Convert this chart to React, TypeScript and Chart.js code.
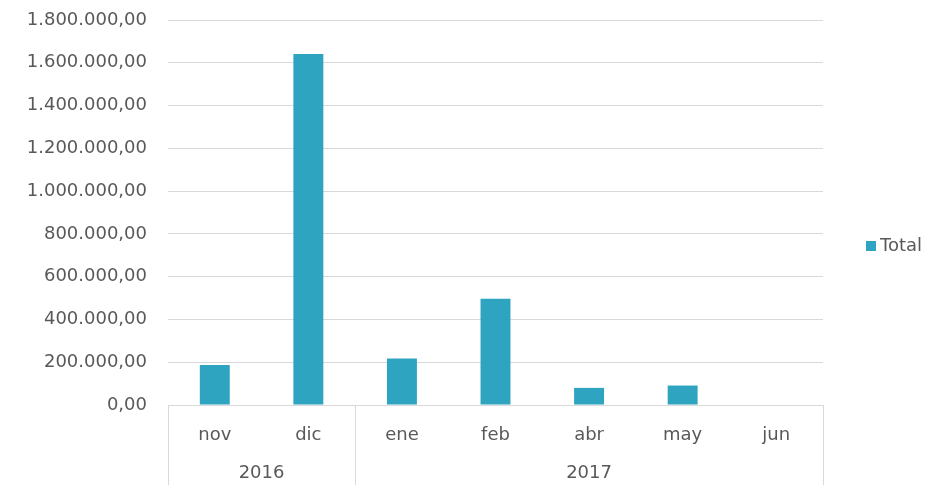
import React, { useEffect, useRef } from "react";
import { Chart, registerables } from "chart.js";

Chart.register(...registerables);

const months = ["nov", "dic", "ene", "feb", "abr", "may", "jun"];
const yearLabels = ["2016", "2017"];
const yearSpans = [2, 5];
const totals = [187000, 1641000, 217000, 497000, 80000, 91000, 0];
const seriesName = "Total";

const FONT = "'DejaVu Sans', sans-serif";
const TEXT = "#595959";
const GRID = "#d9d9d9";
const BAR = "#2ea4c1";
const FS = 18;

function fmt(v: number): string {
  const s = Math.round(v).toString().replace(/\B(?=(\d{3})+(?!\d))/g, ".");
  return s + ",00";
}

const groupPlugin = {
  id: "groupAxis",
  afterDraw(chart: any) {
    const { ctx, chartArea } = chart;
    const x = chart.scales.x;
    const n = months.length;
    const catW = (chartArea.right - chartArea.left) / n;
    const bottom = chart.height;
    ctx.save();
    ctx.strokeStyle = GRID;
    ctx.lineWidth = 1;
    ctx.beginPath();
    ctx.moveTo(chartArea.left, chartArea.bottom + 0.5);
    ctx.lineTo(chartArea.right, chartArea.bottom + 0.5);
    ctx.stroke();
    let idx = 0;
    const edges: number[] = [x.getPixelForValue(0) - catW / 2];
    yearSpans.forEach((s) => {
      idx += s;
      edges.push(x.getPixelForValue(idx - 1) + catW / 2);
    });
    edges.forEach((ex) => {
      const px = Math.round(ex) + 0.5;
      ctx.beginPath();
      ctx.moveTo(px, chartArea.bottom);
      ctx.lineTo(px, bottom);
      ctx.stroke();
    });
    ctx.fillStyle = TEXT;
    ctx.font = FS + "px " + FONT;
    ctx.textAlign = "center";
    ctx.textBaseline = "middle";
    yearLabels.forEach((lab, i) => {
      ctx.fillText(lab, (edges[i] + edges[i + 1]) / 2, 473);
    });
    const ly = (chartArea.top + chartArea.bottom) / 2 + 33.5;
    ctx.fillStyle = BAR;
    ctx.fillRect(866, ly - 5, 10, 10);
    ctx.fillStyle = TEXT;
    ctx.textAlign = "left";
    ctx.fillText(seriesName, 880, ly);
    ctx.restore();
  },
};

export default function App() {
  const ref = useRef<HTMLCanvasElement | null>(null);
  useEffect(() => {
    if (!ref.current) return;
    const chart = new Chart(ref.current, {
      type: "bar",
      data: {
        labels: months,
        datasets: [
          {
            label: seriesName,
            data: totals,
            backgroundColor: BAR,
            barPercentage: 0.32,
            categoryPercentage: 1,
          },
        ],
      },
      options: {
        animation: false,
        responsive: true,
        maintainAspectRatio: false,
        layout: { padding: { left: 0, right: 107, top: 20, bottom: 0 } },
        plugins: { legend: { display: false }, tooltip: { enabled: false } },
        scales: {
          x: {
            grid: { display: false },
            border: { display: false },
            ticks: { color: TEXT, font: { family: FONT, size: FS }, padding: 12 },
            afterFit: (s: any) => {
              s.height = 80;
              s.paddingLeft = 0;
              s.paddingRight = 0;
            },
          },
          y: {
            min: 0,
            max: 1800000,
            border: { display: false },
            grid: { color: GRID, drawTicks: false },
            ticks: {
              stepSize: 200000,
              color: TEXT,
              font: { family: FONT, size: FS },
              padding: 21,
              callback: (v: any) => fmt(Number(v)),
            },
            afterFit: (s: any) => {
              s.width = 168;
              s.paddingTop = 0;
              s.paddingBottom = 0;
            },
          },
        },
      },
      plugins: [groupPlugin],
    });
    return () => chart.destroy();
  }, []);
  return (
    <div style={{ position: "absolute", left: 0, top: 0, width: 930, height: 485, background: "#fff" }}>
      <canvas ref={ref} />
    </div>
  );
}
